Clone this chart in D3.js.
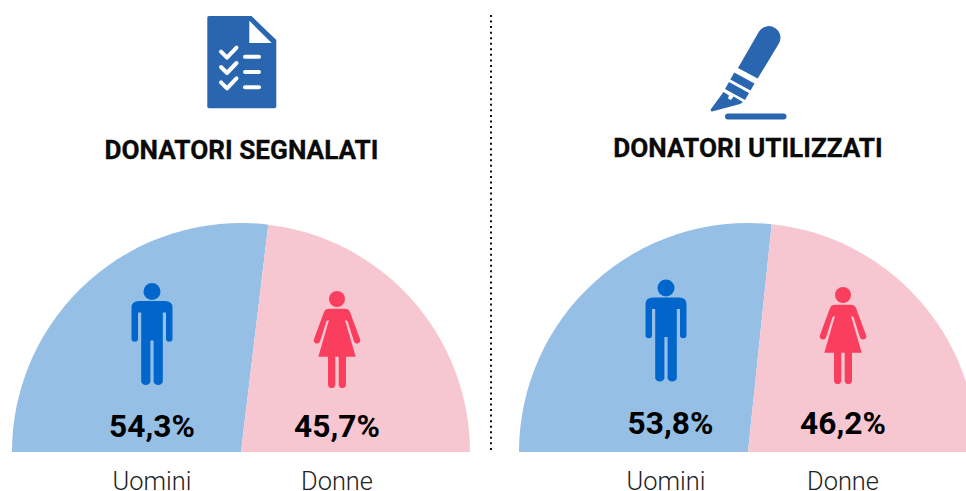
<!DOCTYPE html>
<html><head><meta charset="utf-8">
<script src="https://d3js.org/d3.v7.min.js"></script>
<style>html,body{margin:0;padding:0;background:#fff;overflow:hidden}svg{display:block}</style></head>
<body><svg id="c" width="966" height="491"></svg>
<script>
const titles = ["DONATORI SEGNALATI", "DONATORI UTILIZZATI"];
const categories = ["Uomini", "Donne"];
// percentages printed on the chart
const segnalati = [54.3, 45.7];
const utilizzati = [53.8, 46.2];
// shares as actually drawn: the reference's slices sit slightly off its printed labels
const segnalatiDrawn = [53.8, 46.2];
const utilizzatiDrawn = [53.3, 46.7];
const colours = ["#96bfe6", "#f7c7d1"];
const iconColours = ["#0066cc", "#fa3e5e"];

const panels = [
  {title:titles[0], values:segnalati, drawn:segnalatiDrawn, cx:241, cy:452, r:229, tx:241.5, ty:159,
   figs:[[152,291.5],[337,299]], vals:[[152,437],[337,437]], labs:[[152,490],[337,490]]},
  {title:titles[1], values:utilizzati, drawn:utilizzatiDrawn, cx:748, cy:452, r:229, tx:748, ty:157,
   figs:[[666,288],[843,295]], vals:[[670.5,434],[843,434]], labs:[[666,490],[843,490]]}
];
const svg = d3.select("#c");
const fmt = v => d3.format(".1f")(v).replace(".", ",") + "%";
const pie = d3.pie().sort(null).startAngle(-Math.PI/2).endAngle(Math.PI/2);

const man = "M-20.5 16 Q-20.5 9.5 -13 9.5 H13 Q20.5 9.5 20.5 16 V47 A3.2 3.2 0 0 1 14 47 V21 H10.8 V90.5 A5 5 0 0 1 1.6 90.5 V49 H-1.6 V90.5 A5 5 0 0 1 -10.8 90.5 V21 H-14 V47 A3.2 3.2 0 0 1 -20.5 47 Z";
const woman = "M-8 9.7 H8 Q11.5 9.7 13 13 L23 40 A3.2 3.2 0 0 1 17 42.5 L10.5 22 L8 21 L18.7 57.7 H9 V86 A3.7 3.7 0 0 1 1.7 86 V57.7 H-1.7 V86 A3.7 3.7 0 0 1 -9 86 V57.7 H-18.7 L-8 21 L-10.5 22 L-17 42.5 A3.2 3.2 0 0 1 -23 40 L-13 13 Q-11.5 9.7 -8 9.7 Z";

panels.forEach(p => {
  const g = svg.append("g");
  const arc = d3.arc().innerRadius(0).outerRadius(p.r);
  g.append("g").attr("transform",`translate(${p.cx},${p.cy})`)
   .selectAll("path").data(pie(p.drawn)).join("path")
   .attr("d",arc).attr("fill",(d,i)=>colours[i]);
  g.append("text").attr("x",p.tx).attr("y",p.ty).attr("text-anchor","middle")
   .attr("font-family","Roboto").attr("font-weight",700).attr("font-size",26.2)
   .attr("fill","#0a0a0a").attr("stroke","#0a0a0a").attr("stroke-width",0.3).text(p.title);
  p.figs.forEach((f,i)=>{
    const k = g.append("g").attr("transform",`translate(${f[0]},${f[1]})`).attr("fill",iconColours[i]);
    k.append("circle").attr("r",i?8:8.5);
    k.append("path").attr("d",i?woman:man);
  });
  p.values.forEach((v,i)=>{
    g.append("text").attr("x",p.vals[i][0]).attr("y",p.vals[i][1]).attr("text-anchor","middle")
     .attr("font-family","Roboto").attr("font-weight",700).attr("font-size",31.7).attr("fill","#000").text(fmt(v));
    g.append("text").attr("x",p.labs[i][0]).attr("y",p.labs[i][1]).attr("text-anchor","middle")
     .attr("font-family","Roboto").attr("font-weight",300).attr("font-size",25.4).attr("fill","#222").text(categories[i]);
  });
});

svg.append("line").attr("x1",491).attr("x2",491).attr("y1",15).attr("y2",453)
  .attr("stroke","#111").attr("stroke-width",2).attr("stroke-dasharray","2 3.55");

const blue = "#2a65b0";
// document icon
const doc = svg.append("g");
doc.append("path").attr("fill",blue).attr("d","M209 16 H251.5 L276.3 40 V106.5 Q276.3 108.3 274.5 108.3 H209 Q207.3 108.3 207.3 106.5 V17.7 Q207.3 16 209 16 Z");
doc.append("path").attr("fill","#fff").attr("d","M249.3 20.7 V43 H271.7 Z");
[56.7,72,87.3].forEach(y=>{
  doc.append("path").attr("fill","none").attr("stroke","#fff").attr("stroke-width",4).attr("stroke-linecap","round").attr("stroke-linejoin","round")
    .attr("d",`M221 ${y-5} L227 ${y+1} L236.5 ${y-9}`);
  doc.append("line").attr("x1",245).attr("x2",259).attr("y1",y).attr("y2",y)
    .attr("stroke","#fff").attr("stroke-width",4).attr("stroke-linecap","round");
});
// pen icon
const pen = svg.append("g").attr("fill",blue);
pen.append("path").attr("d","M738 68 L759 31.5 A11.3 11.3 0 0 1 778.6 44 L757.7 78.5 Z");
pen.append("path").attr("d","M734.3 72.5 L754.5 83.5 L750.5 90.5 L730.3 79.5 Z");
pen.append("path").attr("d","M729 82 L749 93 L745 100 L725 89 Z");
pen.append("path").attr("d","M723.5 92 L729 95.5 L728 98.5 L731 100 L733.5 96.5 L743 102 L740 104 L712 111.5 Q710 111 711 109 Z");
pen.append("rect").attr("x",725).attr("y",113.5).attr("width",61.5).attr("height",6).attr("rx",3);
</script></body></html>
